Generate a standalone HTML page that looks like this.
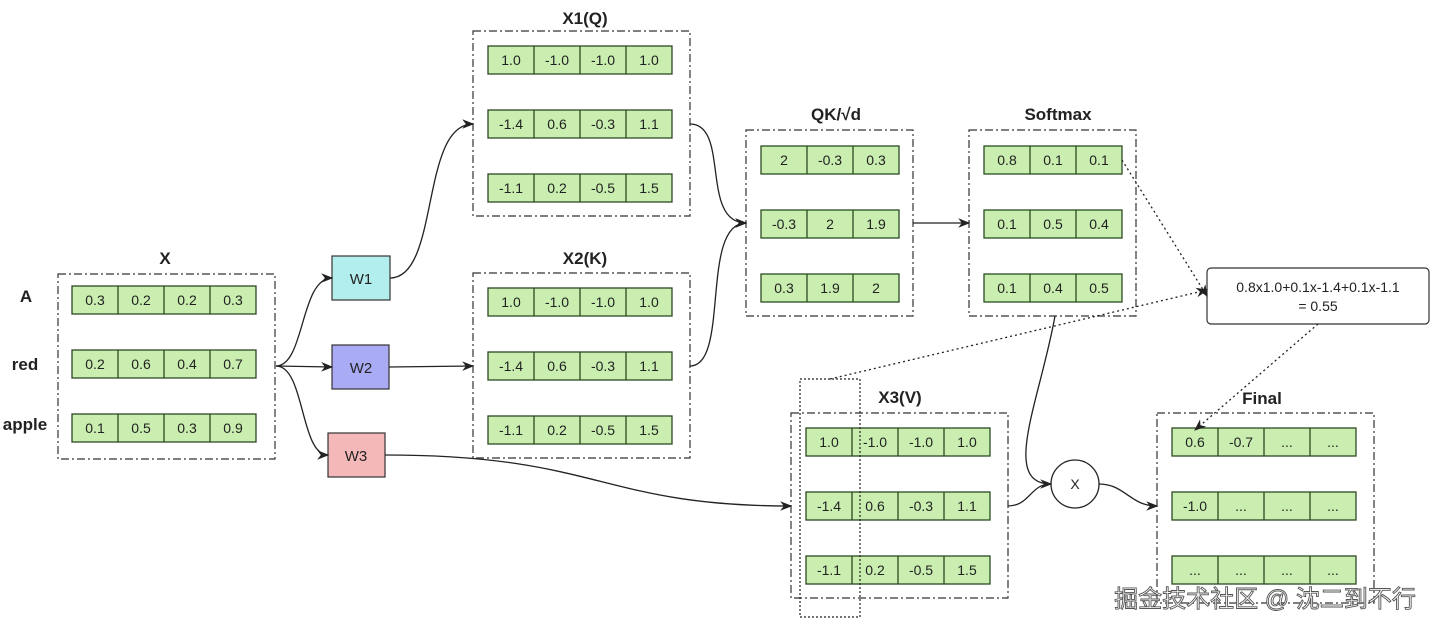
<!DOCTYPE html>
<html><head><meta charset="utf-8"><style>
body{margin:0;background:#fff}
svg{display:block;font-family:"Liberation Sans","Noto Sans CJK SC",sans-serif}
.c{fill:#c9eeb0;stroke:#2b4a20;stroke-width:1.3}
.v{font-size:14px;fill:#222;text-anchor:middle}
.t{font-size:17px;font-weight:bold;fill:#222;text-anchor:middle}
.b{fill:none;stroke:#333;stroke-width:1.2;stroke-dasharray:8 3 2 3}
.e{fill:none;stroke:#222;stroke-width:1.3}
.d{fill:none;stroke:#222;stroke-width:1.3;stroke-dasharray:2 3}
</style></head><body>
<svg width="1440" height="630" viewBox="0 0 1440 630" xmlns="http://www.w3.org/2000/svg">
<defs>
<marker id="a" viewBox="0 0 10 10" refX="9" refY="5" markerWidth="12" markerHeight="12" orient="auto" markerUnits="userSpaceOnUse"><path d="M0,1 L10,5 L0,9 L3,5z" fill="#222"/></marker>
<g id="r4"><rect class="c" x="0" y="0" width="184" height="28"/><path d="M46,0V28M92,0V28M138,0V28" stroke="#2b4a20" stroke-width="1.3"/></g>
<g id="r3"><rect class="c" x="0" y="0" width="138" height="28"/><path d="M46,0V28M92,0V28" stroke="#2b4a20" stroke-width="1.3"/></g>
</defs>

<text class="t" x="165" y="264">X</text>
<rect class="b" x="58" y="274" width="217" height="185"/>
<text class="t" x="26" y="302">A</text><text class="t" x="25" y="370">red</text><text class="t" x="25" y="430">apple</text>
<g transform="translate(72,286)"><use href="#r4"/><text class="v" x="23" y="19">0.3</text><text class="v" x="69" y="19">0.2</text><text class="v" x="115" y="19">0.2</text><text class="v" x="161" y="19">0.3</text></g>
<g transform="translate(72,350)"><use href="#r4"/><text class="v" x="23" y="19">0.2</text><text class="v" x="69" y="19">0.6</text><text class="v" x="115" y="19">0.4</text><text class="v" x="161" y="19">0.7</text></g>
<g transform="translate(72,414)"><use href="#r4"/><text class="v" x="23" y="19">0.1</text><text class="v" x="69" y="19">0.5</text><text class="v" x="115" y="19">0.3</text><text class="v" x="161" y="19">0.9</text></g>

<rect x="332" y="256" width="58" height="44" fill="#b3eeee" stroke="#333" stroke-width="1.2"/><text class="v" x="361" y="284" style="font-size:15px">W1</text>
<rect x="332" y="345" width="57" height="44" fill="#a9abf5" stroke="#333" stroke-width="1.2"/><text class="v" x="361" y="373" style="font-size:15px">W2</text>
<rect x="328" y="433" width="57" height="44" fill="#f4b8b8" stroke="#333" stroke-width="1.2"/><text class="v" x="356" y="461" style="font-size:15px">W3</text>

<text class="t" x="585" y="24">X1(Q)</text>
<rect class="b" x="473" y="31" width="217" height="185"/>
<g transform="translate(488,46)"><use href="#r4"/><text class="v" x="23" y="19">1.0</text><text class="v" x="69" y="19">-1.0</text><text class="v" x="115" y="19">-1.0</text><text class="v" x="161" y="19">1.0</text></g>
<g transform="translate(488,110)"><use href="#r4"/><text class="v" x="23" y="19">-1.4</text><text class="v" x="69" y="19">0.6</text><text class="v" x="115" y="19">-0.3</text><text class="v" x="161" y="19">1.1</text></g>
<g transform="translate(488,174)"><use href="#r4"/><text class="v" x="23" y="19">-1.1</text><text class="v" x="69" y="19">0.2</text><text class="v" x="115" y="19">-0.5</text><text class="v" x="161" y="19">1.5</text></g>

<text class="t" x="585" y="264">X2(K)</text>
<rect class="b" x="473" y="273" width="217" height="185"/>
<g transform="translate(488,288)"><use href="#r4"/><text class="v" x="23" y="19">1.0</text><text class="v" x="69" y="19">-1.0</text><text class="v" x="115" y="19">-1.0</text><text class="v" x="161" y="19">1.0</text></g>
<g transform="translate(488,352)"><use href="#r4"/><text class="v" x="23" y="19">-1.4</text><text class="v" x="69" y="19">0.6</text><text class="v" x="115" y="19">-0.3</text><text class="v" x="161" y="19">1.1</text></g>
<g transform="translate(488,416)"><use href="#r4"/><text class="v" x="23" y="19">-1.1</text><text class="v" x="69" y="19">0.2</text><text class="v" x="115" y="19">-0.5</text><text class="v" x="161" y="19">1.5</text></g>

<text class="t" x="836" y="120">QK/√d</text>
<rect class="b" x="746" y="130" width="167" height="186"/>
<g transform="translate(761,146)"><use href="#r3"/><text class="v" x="23" y="19">2</text><text class="v" x="69" y="19">-0.3</text><text class="v" x="115" y="19">0.3</text></g>
<g transform="translate(761,210)"><use href="#r3"/><text class="v" x="23" y="19">-0.3</text><text class="v" x="69" y="19">2</text><text class="v" x="115" y="19">1.9</text></g>
<g transform="translate(761,274)"><use href="#r3"/><text class="v" x="23" y="19">0.3</text><text class="v" x="69" y="19">1.9</text><text class="v" x="115" y="19">2</text></g>

<text class="t" x="1058" y="120">Softmax</text>
<rect class="b" x="969" y="130" width="167" height="186"/>
<g transform="translate(984,146)"><use href="#r3"/><text class="v" x="23" y="19">0.8</text><text class="v" x="69" y="19">0.1</text><text class="v" x="115" y="19">0.1</text></g>
<g transform="translate(984,210)"><use href="#r3"/><text class="v" x="23" y="19">0.1</text><text class="v" x="69" y="19">0.5</text><text class="v" x="115" y="19">0.4</text></g>
<g transform="translate(984,274)"><use href="#r3"/><text class="v" x="23" y="19">0.1</text><text class="v" x="69" y="19">0.4</text><text class="v" x="115" y="19">0.5</text></g>

<rect x="1207" y="268" width="222" height="56" rx="4" fill="#fff" stroke="#333" stroke-width="1.2"/>
<text class="v" x="1318" y="292">0.8x1.0+0.1x-1.4+0.1x-1.1</text>
<text class="v" x="1318" y="311">= 0.55</text>

<text class="t" x="900" y="403">X3(V)</text>
<rect class="b" x="791" y="413" width="217" height="185"/>
<g transform="translate(806,428)"><use href="#r4"/><text class="v" x="23" y="19">1.0</text><text class="v" x="69" y="19">-1.0</text><text class="v" x="115" y="19">-1.0</text><text class="v" x="161" y="19">1.0</text></g>
<g transform="translate(806,492)"><use href="#r4"/><text class="v" x="23" y="19">-1.4</text><text class="v" x="69" y="19">0.6</text><text class="v" x="115" y="19">-0.3</text><text class="v" x="161" y="19">1.1</text></g>
<g transform="translate(806,556)"><use href="#r4"/><text class="v" x="23" y="19">-1.1</text><text class="v" x="69" y="19">0.2</text><text class="v" x="115" y="19">-0.5</text><text class="v" x="161" y="19">1.5</text></g>
<rect x="800" y="379" width="60" height="238" fill="none" stroke="#222" stroke-width="1.2" stroke-dasharray="2 2"/>

<text class="t" x="1262" y="404">Final</text>
<rect class="b" x="1157" y="413" width="217" height="190"/>
<g transform="translate(1172,428)"><use href="#r4"/><text class="v" x="23" y="19">0.6</text><text class="v" x="69" y="19">-0.7</text><text class="v" x="115" y="19">...</text><text class="v" x="161" y="19">...</text></g>
<g transform="translate(1172,492)"><use href="#r4"/><text class="v" x="23" y="19">-1.0</text><text class="v" x="69" y="19">...</text><text class="v" x="115" y="19">...</text><text class="v" x="161" y="19">...</text></g>
<g transform="translate(1172,556)"><use href="#r4"/><text class="v" x="23" y="19">...</text><text class="v" x="69" y="19">...</text><text class="v" x="115" y="19">...</text><text class="v" x="161" y="19">...</text></g>

<circle cx="1075" cy="484" r="24" fill="#fff" stroke="#222" stroke-width="1.3"/>
<text class="v" x="1075" y="489">X</text>

<path class="e" marker-end="url(#a)" d="M276,366 C305,366 300,278 332,278"/>
<path class="e" marker-end="url(#a)" d="M276,366 L332,367"/>
<path class="e" marker-end="url(#a)" d="M276,366 C305,366 300,455 328,455"/>
<path class="e" marker-end="url(#a)" d="M390,278 C440,278 420,124 473,124"/>
<path class="e" marker-end="url(#a)" d="M389,367 L473,366"/>
<path class="e" marker-end="url(#a)" d="M385,455 C600,455 600,506 791,506"/>
<path class="e" marker-end="url(#a)" d="M690,124 C730,124 700,223 746,223"/>
<path class="e" marker-end="url(#a)" d="M690,366 C730,366 700,223 746,223"/>
<path class="e" marker-end="url(#a)" d="M913,223 L969,223"/>
<path class="e" marker-end="url(#a)" d="M1055,316 C1040,400 1000,484 1051,484"/>
<path class="e" d="M1008,506 C1030,506 1030,484 1051,484"/>
<path class="e" marker-end="url(#a)" d="M1099,484 C1125,484 1130,506 1157,506"/>
<path class="d" marker-end="url(#a)" d="M1122,160 L1207,296"/>
<path class="d" marker-end="url(#a)" d="M830,379 L1207,290"/>
<path class="d" marker-end="url(#a)" d="M1318,324 L1195,430"/>

<text x="1265" y="607" text-anchor="middle" style="font-size:24px;fill:#fff;stroke:#555;stroke-width:0.9">掘金技术社区 @ 沈二到不行</text>
</svg>
</body></html>
